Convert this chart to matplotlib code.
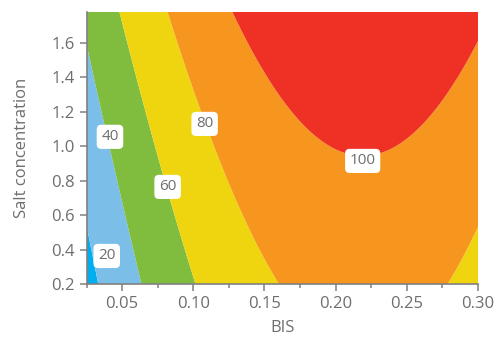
import numpy as np
import matplotlib
matplotlib.use("Agg")
import matplotlib.pyplot as plt
from matplotlib.ticker import MultipleLocator

plt.rcParams['font.family'] = ['Open Sans', 'DejaVu Sans']

# Contour crossing points (BIS, salt, level)
pt_bis = [0.034, 0.025, 0.0336,
          0.0632, 0.0527, 0.041, 0.0352, 0.025,
          0.1006, 0.0901, 0.0725, 0.0499,
          0.159, 0.1053, 0.082, 0.278, 0.30,
          0.128, 0.149, 0.1817, 0.219, 0.2566, 0.280, 0.30]
pt_salt = [0.2, 0.533, 0.213,
           0.213, 0.62, 1.008, 1.136, 1.58,
           0.213, 0.524, 1.018, 1.78,
           0.2, 1.212, 1.78, 0.2, 0.496,
           1.78, 1.405, 1.115, 0.902, 1.115, 1.405, 1.55]
pt_level = [20, 20, 20,
            40, 40, 40, 40, 40,
            60, 60, 60, 60,
            80, 80, 80, 80, 80,
            100, 100, 100, 100, 100, 100, 100]

levels = [20, 40, 60, 80, 100]
fill_colors = ['#00aeef', '#7bbfe8', '#80bc3d', '#efd510', '#f7961f', '#ee3124']
label_bis = [0.0392, 0.0415, 0.082, 0.108, 0.219]
label_salt = [0.363, 1.055, 0.764, 1.13, 0.915]

xmin, xmax, ymin, ymax = 0.025, 0.30, 0.2, 1.78

# quadratic response surface fitted (weighted) to the read points
px = np.array(pt_bis); py = np.array(pt_salt); pz = np.array(pt_level, float)
w = np.where(pz >= 100, 3.0, 1.0)
A = np.column_stack([np.ones_like(px), px, py, px**2, py**2, px*py])
coef, *_ = np.linalg.lstsq(A * w[:, None], pz * w, rcond=None)
gx = np.linspace(xmin, xmax, 400)
gy = np.linspace(ymin, ymax, 400)
X, Y = np.meshgrid(gx, gy)
Z = (coef[0] + coef[1]*X + coef[2]*Y + coef[3]*X**2 + coef[4]*Y**2 + coef[5]*X*Y)

fig = plt.figure(figsize=(4.96, 3.43), dpi=100)
ax = fig.add_axes([0.1744, 0.172, 0.7893, 0.793])
ax.contourf(X, Y, Z, levels=[-1e6] + levels + [1e6], colors=fill_colors, antialiased=True)

for lv, lx, ly in zip(levels, label_bis, label_salt):
    ax.text(lx, ly, str(lv), ha='center', va='center', fontsize=11, color='#6e6e6e',
            bbox=dict(boxstyle='round,pad=0.3,rounding_size=0.3', fc='white', ec='none'))

ax.set_xlim(xmin, xmax)
ax.set_ylim(ymin, ymax)
ax.set_xticks([0.05, 0.10, 0.15, 0.20, 0.25, 0.30])
ax.set_xticklabels(['0.05', '0.10', '0.15', '0.20', '0.25', '0.30'])
ax.xaxis.set_minor_locator(MultipleLocator(0.025))
ax.set_yticks([0.2, 0.4, 0.6, 0.8, 1.0, 1.2, 1.4, 1.6])
ax.set_yticklabels(['0.2', '0.4', '0.6', '0.8', '1.0', '1.2', '1.4', '1.6'])

gray = '#6e6e6e'
for s in ['top', 'right']:
    ax.spines[s].set_visible(False)
for s in ['left', 'bottom']:
    ax.spines[s].set_color('#808080')
    ax.spines[s].set_linewidth(1.2)
ax.tick_params(which='major', length=5, width=1.1, color='#808080', labelcolor=gray, labelsize=12)
ax.tick_params(which='minor', length=3, width=1.1, color='#808080')
ax.set_xlabel('BIS', fontsize=12, color=gray, labelpad=6)
ax.set_ylabel('Salt concentration', fontsize=12, color=gray, labelpad=15)

fig.savefig('out.png', dpi=100)
